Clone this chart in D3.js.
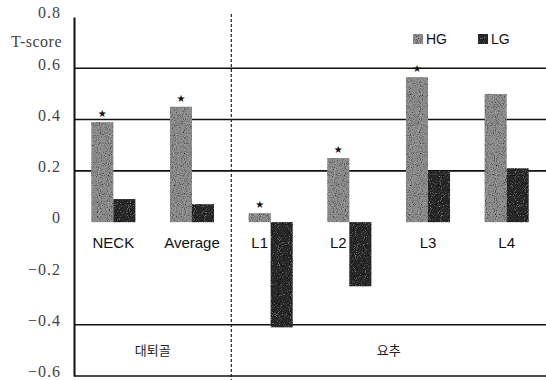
<!DOCTYPE html>
<html>
<head>
<meta charset="utf-8">
<script src="https://cdn.jsdelivr.net/npm/d3@7"></script>
<style>
  body { margin: 0; background: #fff; }
  svg { display: block; }
</style>
</head>
<body>
<svg id="chart" width="546" height="380"></svg>
<script>
// data
const categories = ["NECK", "Average", "L1", "L2", "L3", "L4"];
const hgValues = [0.39, 0.45, 0.035, 0.25, 0.565, 0.50];
const lgValues = [0.09, 0.07, -0.41, -0.25, 0.20, 0.21];
const starred = [true, true, true, true, true, false];
const seriesNames = ["HG", "LG"];
const yTicks = [0.8, 0.6, 0.4, 0.2, 0, -0.2, -0.4, -0.6];
const gridValues = [0.6, 0.4, 0.2, -0.4, -0.6];
const groups = [
    { name: "대퇴골", from: "NECK", to: "Average" },
    { name: "요추", from: "L1", to: "L4" }
];

const svg = d3.select("#chart");
const left = 74, right = 546;

const x = d3.scaleBand()
    .domain(categories)
    .range([left, right])
    .paddingInner(0.44)
    .paddingOuter(0.22);

const sub = d3.scaleBand()
    .domain(seriesNames)
    .range([0, x.bandwidth()]);

const y = d3.scaleLinear()
    .domain([-0.6, 0.8])
    .range([376, 17]);

const colors = { HG: "#8e8e8e", LG: "#2a2a2a" };

// stipple look for the bars (printed halftone)
const defs = svg.append("defs");
const filt = defs.append("filter").attr("id", "grain")
    .attr("x", 0).attr("y", 0).attr("width", 1).attr("height", 1);
filt.append("feTurbulence")
    .attr("type", "fractalNoise")
    .attr("baseFrequency", 1.1)
    .attr("numOctaves", 1)
    .attr("seed", 3)
    .attr("result", "noise");
filt.append("feColorMatrix")
    .attr("in", "noise")
    .attr("type", "matrix")
    .attr("values", "0 0 0 0 0  0 0 0 0 0  0 0 0 0 0  3 0 0 0 -1.5")
    .attr("result", "dark");
filt.append("feColorMatrix")
    .attr("in", "noise")
    .attr("type", "matrix")
    .attr("values", "0 0 0 0 1  0 0 0 0 1  0 0 0 0 1  -3 0 0 0 1.2")
    .attr("result", "light");
filt.append("feComposite")
    .attr("in", "dark").attr("in2", "SourceGraphic")
    .attr("operator", "in").attr("result", "darkIn");
filt.append("feComponentTransfer").attr("in", "light").attr("result", "lightSoft")
    .append("feFuncA").attr("type", "linear").attr("slope", 0.35);
filt.append("feComposite")
    .attr("in", "lightSoft").attr("in2", "SourceGraphic")
    .attr("operator", "in").attr("result", "lightIn");
filt.append("feMerge").selectAll("feMergeNode")
    .data(["SourceGraphic", "darkIn", "lightIn"])
    .join("feMergeNode").attr("in", d => d);

// gridlines
svg.append("g").selectAll("line")
    .data(gridValues)
    .join("line")
    .attr("x1", left).attr("x2", right)
    .attr("y1", d => y(d)).attr("y2", d => y(d))
    .attr("stroke", "#111")
    .attr("stroke-width", 1.6);

// y axis
const yAxis = d3.axisLeft(y)
    .tickValues(yTicks)
    .tickSize(0)
    .tickPadding(13)
    .tickFormat(d => d === 0 ? "0" : d3.format(".1f")(d).replace("-", "\u2212"));

const ag = svg.append("g")
    .attr("transform", `translate(${left},0)`)
    .call(yAxis);
ag.attr("font-family", "'Liberation Serif', serif");
ag.select(".domain").attr("stroke", "#111").attr("stroke-width", 2);
ag.selectAll("text")
    .attr("dy", "0.05em")
    .attr("font-family", "'Liberation Serif', serif")
    .attr("font-size", 16)
    .attr("letter-spacing", 1)
    .attr("fill", "#444");

svg.append("text")
    .attr("x", 62).attr("y", 47)
    .attr("text-anchor", "end")
    .attr("font-family", "'Liberation Serif', serif")
    .attr("font-size", 16)
    .attr("letter-spacing", 0.5)
    .attr("fill", "#444")
    .text("T-score");

// group divider
const divX = x(groups[1].from) - x.step() * x.paddingInner() / 2;
svg.append("line")
    .attr("x1", divX).attr("x2", divX)
    .attr("y1", 14).attr("y2", 380)
    .attr("stroke", "#222")
    .attr("stroke-width", 1.2)
    .attr("stroke-dasharray", "3,2");

// bars
const rows = categories.map((c, i) => ({ cat: c, HG: hgValues[i], LG: lgValues[i], star: starred[i] }));

const barG = svg.append("g").selectAll("g")
    .data(rows)
    .join("g")
    .attr("transform", d => `translate(${x(d.cat)},0)`);

barG.selectAll("rect")
    .data(d => seriesNames.map(s => ({ s: s, v: d[s] })))
    .join("rect")
    .attr("x", d => sub(d.s))
    .attr("width", sub.bandwidth())
    .attr("y", d => y(Math.max(0, d.v)))
    .attr("height", d => Math.abs(y(d.v) - y(0)))
    .attr("fill", d => colors[d.s])
    .attr("filter", "url(#grain)");

// significance stars
barG.filter(d => d.star).append("text")
    .attr("x", sub("HG") + sub.bandwidth() / 2)
    .attr("y", d => y(d.HG) - 5)
    .attr("text-anchor", "middle")
    .attr("font-family", "'DejaVu Sans', sans-serif")
    .attr("font-size", 10)
    .attr("fill", "#111")
    .text("\u2605");

// category labels: over the HG bar where the LG bar hangs below zero
barG.append("text")
    .attr("x", d => d.LG < 0 ? sub("HG") + sub.bandwidth() / 2 : x.bandwidth() / 2)
    .attr("y", y(0) + 26)
    .attr("text-anchor", "middle")
    .attr("font-family", "'Liberation Sans', Arial, sans-serif")
    .attr("font-size", 15)
    .attr("fill", "#111")
    .text(d => d.cat);

// group labels
svg.append("g").selectAll("text")
    .data(groups)
    .join("text")
    .attr("x", d => {
        const a = d.from === categories[0] ? left : divX;
        const b = d.to === categories[categories.length - 1] ? right : divX;
        return (a + b) / 2;
    })
    .attr("y", (y(-0.4) + y(-0.6)) / 2 + 5)
    .attr("text-anchor", "middle")
    .attr("font-family", "'Noto Sans CJK KR', sans-serif")
    .attr("font-size", 13)
    .attr("fill", "#222")
    .text(d => d.name);

// legend
const legend = svg.append("g").selectAll("g")
    .data(seriesNames)
    .join("g")
    .attr("transform", (d, i) => `translate(${413 + i * 65},34)`);
legend.append("rect")
    .attr("width", 10).attr("height", 10)
    .attr("fill", d => colors[d])
    .attr("filter", "url(#grain)");
legend.append("text")
    .attr("x", 13).attr("y", 10)
    .attr("font-family", "'Liberation Sans', Arial, sans-serif")
    .attr("font-size", 14)
    .attr("fill", "#111")
    .text(d => d);
</script>
</body>
</html>
